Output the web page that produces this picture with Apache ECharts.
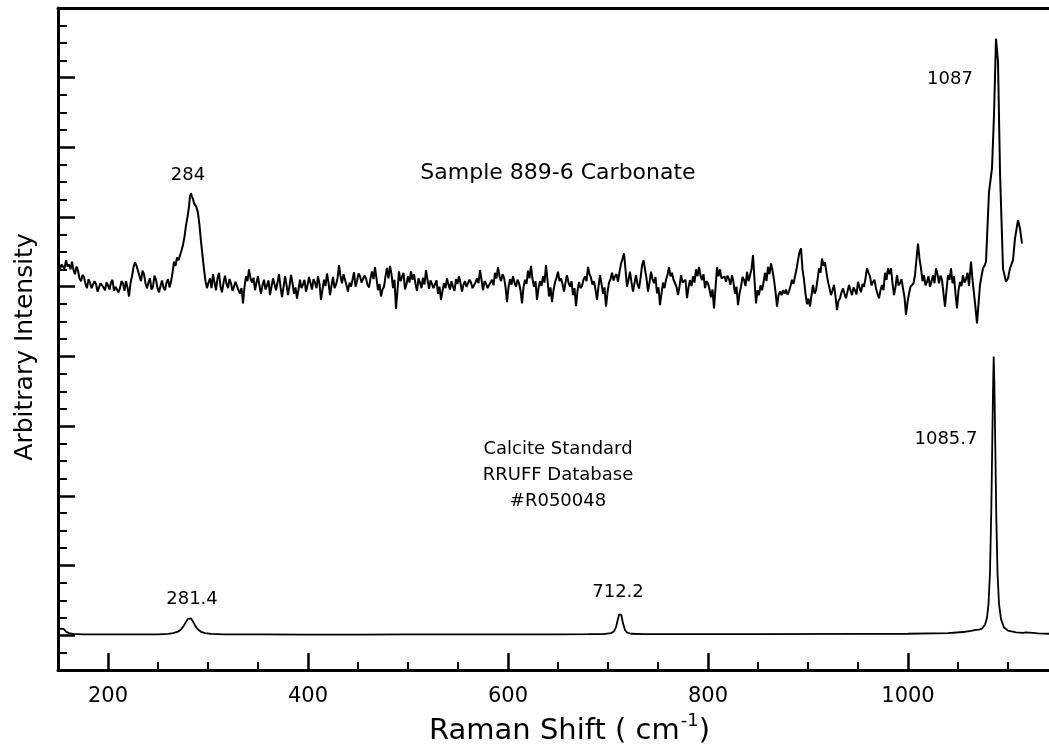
<!DOCTYPE html>
<html>
<head>
<meta charset="utf-8">
<script src="https://cdn.jsdelivr.net/npm/echarts@6/dist/echarts.min.js"></script>
<style>
html,body{margin:0;padding:0;background:#fff;}
#chart{width:1049px;height:747px;}
</style>
</head>
<body>
<div id="chart"></div>
<script>
// ---- Data ----
const xMajorTicks = [200, 400, 600, 800, 1000];
const yMajorTicks = [0, 1000, 2000, 3000, 4000, 5000, 6000, 7000, 8000];

// Sample 889-6 Carbonate (upper, noisy spectrum) [Raman shift, intensity]
const sampleSpectrum = [
[152,5250],[153.5,5320],[155,5300],[156.5,5260],[158,5380],[159.5,5290],[161,5320],[162.5,5250],[164,5360],[165.5,5240],
[167,5180],[168.5,5290],[170,5230],[171.5,5120],[173,5080],[174.5,5170],[176,5140],[177.5,5040],[179,4980],[180.5,5110],
[182,5060],[183.5,4980],[185,4960],[186.5,5080],[188,5040],[189.5,4930],[191,4990],[192.5,5050],[194,5070],[195.5,4990],
[197,4950],[198.5,5060],[200,5020],[201.5,4960],[203,5060],[204.5,5100],[206,4940],[207.5,5000],[209,5010],[210.5,4920],
[212,4980],[213.5,5080],[215,5050],[216.5,4940],[218,5080],[219.5,4990],[221,4860],[222.5,5050],[224,5150],[225.5,5280],
[227,5350],[228.5,5300],[230,5230],[231.5,5150],[233,5080],[234.5,5230],[236,5180],[237.5,5050],[239,4980],[240.5,5060],
[242,5120],[243.5,4960],[245,5000],[246.5,5160],[248,5100],[249.5,4980],[251,4920],[252.5,5010],[254,5090],[255.5,4990],
[257,4950],[258.5,5060],[260,5110],[261.5,4990],[263,5070],[264.5,5200],[266,5360],[267.5,5300],[269,5420],[270.5,5380],
[272,5450],[273.5,5520],[275,5600],[276.5,5720],[278,5880],[279.5,6000],[281,6150],[282,6300],[283,6340],[284,6290],
[285,6260],[286,6200],[287,6180],[288.5,6140],[290,6060],[291.5,5880],[293,5650],[294.5,5450],[296,5250],[297.5,5080],
[299,4980],[300.5,5060],[302,5120],[303.5,4980],[305,5180],[306.5,5060],[308,4950],[309.5,5120],[311,5200],[312.5,5000],
[314,4920],[315.5,5060],[317,5160],[318.5,5040],[320,4980],[321.5,5110],[323,5050],[324.5,4940],[326,4960],[327.5,5070],
[329,5010],[330.5,4950],[332,4900],[333.5,4980],[335,4760],[336.5,5000],[338,5150],[339.5,5080],[341,5250],[342.5,5120],
[344,5060],[345.5,5130],[347,4950],[348.5,5060],[350,5150],[351.5,5010],[353,4900],[354.5,5020],[356,5100],[357.5,4960],
[359,5020],[360.5,5090],[362,4880],[363.5,5000],[365,5120],[366.5,5040],[368,4950],[369.5,5060],[371,5180],[372.5,5000],
[374,4850],[375.5,4990],[377,5150],[378.5,5030],[380,4880],[381.5,5010],[383,5170],[384.5,5050],[386,4900],[387.5,4990],
[389,4830],[390.5,4960],[392,5100],[393.5,4980],[395,5030],[396.5,5100],[398,4930],[399.5,5020],[401,5140],[402.5,5050],
[404,4960],[405.5,5110],[407,5060],[408.5,4980],[410,5150],[411.5,5040],[413,4810],[414.5,4960],[416,5100],[417.5,5010],
[419,5190],[420.5,5060],[422,4880],[423.5,5020],[425,5140],[426.5,4980],[428,5030],[429.5,5120],[431,5310],[432.5,5150],
[434,5050],[435.5,5180],[437,5100],[438.5,5020],[440,4930],[441.5,5060],[443,5000],[444.5,5100],[446,5210],[447.5,5000],
[449,5080],[450.5,5190],[452,5150],[453.5,5060],[455,5040],[456.5,5160],[458,5120],[459.5,5030],[461,4990],[462.5,5120],
[464,5220],[465.5,5110],[467,5280],[468.5,5120],[470,4950],[471.5,5040],[473,4860],[474.5,4960],[476,5000],[477.5,5150],
[479,5270],[480.5,5120],[482,5300],[483.5,5180],[485,4980],[486.5,5100],[488,4680],[489.5,4950],[491,5220],[492.5,5080],
[494,5100],[495.5,5200],[497,4960],[498.5,5040],[500,5150],[501.5,5060],[503,5220],[504.5,5100],[506,5180],[507.5,5040],
[509,4940],[510.5,5120],[512,5060],[513.5,4980],[515,5130],[516.5,5030],[518,5240],[519.5,5100],[521,4970],[522.5,5090],
[524,5080],[525.5,4980],[527,5000],[528.5,5090],[530,4900],[531.5,5000],[533,4810],[534.5,4940],[536,5050],[537.5,4980],
[539,5120],[540.5,5030],[542,4960],[543.5,5080],[545,5000],[546.5,4940],[548,5110],[549.5,5040],[551,5150],[552.5,5050],
[554,4930],[555.5,5030],[557,5080],[558.5,5000],[560,4990],[561.5,5100],[563,5060],[564.5,4980],[566,4990],[567.5,5060],
[569,5120],[570.5,5050],[572,5240],[573.5,5100],[575,4950],[576.5,5080],[578,5050],[579.5,4980],[581,4960],[582.5,5060],
[584,5100],[585.5,5020],[587,5200],[588.5,5120],[590,5280],[591.5,5150],[593,5080],[594.5,5180],[596,5130],[597.5,5000],
[599,4780],[600.5,4990],[602,5110],[603.5,5030],[605,5150],[606.5,5060],[608,5000],[609.5,5100],[611,5050],[612.5,4950],
[614,4760],[615.5,4990],[617,5100],[618.5,5040],[620,5230],[621.5,5120],[623,5300],[624.5,5110],[626,5000],[627.5,5080],
[629,4810],[630.5,4980],[632,5080],[633.5,5010],[635,5150],[636.5,5060],[638,5310],[639.5,5100],[641,4860],[642.5,4990],
[644,4780],[645.5,4950],[647,5060],[648.5,5130],[650,5215],[651.5,5080],[653,5120],[654.5,5040],[656,4930],[657.5,5060],
[659,5165],[660.5,5060],[662,5000],[663.5,5080],[665,4880],[666.5,4980],[668,4720],[669.5,4940],[671,5070],[672.5,4980],
[674,5010],[675.5,5100],[677,5150],[678.5,5080],[680,5285],[681.5,5180],[683,5130],[684.5,5030],[686,5080],[687.5,4960],
[689,4810],[690.5,5000],[692,5165],[693.5,5040],[695,4900],[696.5,4990],[698,4715],[699.5,4920],[701,5060],[702.5,5110],
[704,5200],[705.5,5090],[707,5150],[708.5,5180],[710,5070],[711.5,5210],[713,5330],[714.5,5400],[716,5480],[717.5,5250],
[719,5000],[720.5,5100],[722,5215],[723.5,5060],[725,4930],[726.5,5050],[728,5165],[729.5,5040],[731,4975],[732.5,5120],
[734,5300],[735.5,5380],[737,5360],[738.5,5120],[740,4930],[741.5,5060],[743,5215],[744.5,5110],[746,5050],[747.5,5140],
[749,4905],[750.5,4990],[752,4735],[753.5,4900],[755,5060],[756.5,4980],[758,5100],[759.5,5170],[761,5280],[762.5,5150],
[764,5200],[765.5,5100],[767,5095],[768.5,5000],[770,4880],[771.5,5000],[773,5165],[774.5,5060],[776,5040],[777.5,5100],
[779,4835],[780.5,4990],[782,5095],[783.5,5010],[785,5150],[786.5,5060],[788,5250],[789.5,5150],[791,5285],[792.5,5160],
[794,5095],[795.5,5180],[797,4980],[798.5,5080],[800,5050],[801.5,4960],[803,4850],[804.5,4960],[806,4690],[807.5,4980],
[809,5280],[810.5,5150],[812,5250],[813.5,5120],[815,5095],[816.5,5150],[818,5070],[819.5,5160],[821,5110],[822.5,5030],
[824,5165],[825.5,5060],[827,4900],[828.5,5000],[830,4735],[831.5,4900],[833,5000],[834.5,5140],[836,5100],[837.5,5010],
[839,5215],[840.5,5080],[842,5165],[843.5,5250],[845,5455],[846.5,5100],[848,4760],[849.5,4950],[851,4880],[852.5,5020],
[854,4950],[855.5,5060],[857,5200],[858.5,5080],[860,5285],[861.5,5180],[863,5335],[864.5,5230],[866,5100],[867.5,4930],
[869,4715],[870.5,4880],[872,4930],[873.5,4880],[875,4950],[876.5,4900],[878,4960],[879.5,4890],[881,4930],[882.5,5010],
[884,5100],[885.5,5040],[887,5150],[888.5,5250],[890,5380],[891.5,5500],[893,5550],[894.5,5250],[896,5100],[897.5,4900],
[899,4750],[900.5,4830],[902,4715],[903.5,4880],[905,5025],[906.5,4900],[908,4950],[909.5,5100],[911,5265],[912.5,5200],
[914,5405],[915.5,5300],[917,5350],[918.5,5200],[920,5070],[921.5,4980],[923,4880],[924.5,4950],[926,5025],[927.5,4860],
[929,4665],[930.5,4800],[932,4835],[933.5,4920],[935,4975],[936.5,4900],[938,4835],[939.5,4930],[941,5025],[942.5,4950],
[944,4880],[945.5,4990],[947,4950],[948.5,4890],[950,5070],[951.5,4990],[953,4920],[954.5,5040],[956,5000],[957.5,5120],
[959,5265],[960.5,5200],[962,5150],[963.5,5020],[965,5070],[966.5,5100],[968,4975],[969.5,4900],[971,4835],[972.5,4950],
[974,5025],[975.5,4950],[977,5200],[978.5,5100],[980,5265],[981.5,5180],[983,5265],[984.5,5050],[986,4880],[987.5,5000],
[989,5165],[990.5,5020],[992,5050],[993.5,5110],[995,4975],[996.5,4850],[998,4595],[999.5,4780],[1001,4900],[1002.5,5000],
[1004,4975],[1005.5,5050],[1007,5165],[1008.5,5400],[1010,5620],[1011.5,5400],[1013,5265],[1014.5,5080],[1016,5165],[1017.5,5020],
[1019,5070],[1020.5,5150],[1022,5000],[1023.5,5080],[1025,5165],[1026.5,5050],[1028,5265],[1029.5,5180],[1031,5050],[1032.5,5160],
[1034,5100],[1035.5,4900],[1037,4715],[1038.5,4950],[1040,5165],[1041.5,5100],[1043,5265],[1044.5,5050],[1046,5150],[1047.5,4900],
[1049,4690],[1050.5,4950],[1052,5070],[1053.5,5010],[1055,5165],[1056.5,5060],[1058,5110],[1059.5,5200],[1061,5010],[1062,5200],
[1063,5360],[1064.5,5100],[1066,4900],[1067.5,4700],[1069,4475],[1070.5,4750],[1072,5025],[1073.5,5150],[1075,5265],[1076.5,5300],
[1078,5360],[1081,6363],[1084,6700],[1086,7465],[1088,8560],[1090,8230],[1092,6650],[1095,5260],[1098,5070],[1100,5120],
[1102,5265],[1105,5383],[1107,5693],[1110,5957],[1112,5837],[1114,5620]
];

// Calcite Standard, RRUFF Database #R050048 (lower spectrum)
const calciteSpectrum = [
[150,60],[152,95],[154,110],[156,85],[158,50],[161,30],[165,18],[175,12],[200,10],[230,10],
[250,12],[260,18],[265,28],[270,50],[273,80],[276,140],[278,190],[280,235],[281.4,255],[283,240],
[285,195],[287,140],[290,80],[293,48],[297,28],[303,18],[315,12],[350,10],[400,8],[450,8],
[500,10],[550,10],[600,12],[650,12],[680,14],[695,16],[703,28],[706,55],[708,115],[710,235],
[711.2,300],[712.2,320],[713.3,290],[715,170],[717,75],[719,38],[723,20],[735,14],[780,14],[850,16],
[950,18],[1000,20],[1040,30],[1055,45],[1063,60],[1068,75],[1071,78],[1074,95],[1077,150],[1079,250],
[1080.5,450],[1082,900],[1083.3,1800],[1084.3,2800],[1085,3500],[1085.7,4000],[1086.4,3600],[1087.3,2700],[1088.3,1700],[1089.5,900],
[1091,450],[1093,230],[1096,110],[1100,65],[1108,40],[1115,32],[1118,40],[1120,48],[1122,35],[1130,25],[1141,20]
];

// Text annotations: [text, raman shift, intensity]
const peakLabels = [
  ['284', 280, 6600],
  ['1087', 1042, 7980],
  ['1085.7', 1038, 2810],
  ['281.4', 284, 520],
  ['712.2', 710, 620]
];
const captionLabels = [
  ['Sample 889-6 Carbonate', 650, 6630],
  ['Calcite Standard\nRRUFF Database\n#R050048', 650, 2290]
];

const xName = 'Raman Shift';
const yName = 'Arbitrary Intensity';

// ---- Chart ----
const FONT = 'DejaVu Sans';
const X_MIN = 150, X_MAX = 1141, Y_MIN = -500, Y_MAX = 9000;
const chart = echarts.init(document.getElementById('chart'), null, {renderer: 'canvas'});

function minorValues(min, max, step, majors) {
  const out = [];
  for (let v = min + step; v < max; v += step) if (majors.indexOf(v) < 0) out.push(v);
  return out;
}

const labelStyle = (size, lh) => ({
  show: true, position: 'inside', formatter: '{b}', fontSize: size, lineHeight: lh,
  fontFamily: FONT, color: '#000', opacity: 1, textBorderWidth: 0, textShadowBlur: 0
});

const option = {
  animation: false,
  backgroundColor: '#ffffff',
  textStyle: {fontFamily: FONT, color: '#000'},
  grid: {left: 58, top: 8, right: 0, bottom: 77, show: false, containLabel: false, outerBoundsMode: 'none'},
  xAxis: [
    {
      type: 'value', min: X_MIN, max: X_MAX, position: 'bottom',
      axisLine: {show: true, onZero: false, lineStyle: {color: '#000', width: 3}},
      axisTick: {show: true, inside: true, length: 17, customValues: xMajorTicks, lineStyle: {color: '#000', width: 2.5}},
      axisLabel: {show: true, customValues: xMajorTicks, formatter: v => String(v), fontSize: 21, color: '#000', fontFamily: FONT, margin: 16},
      splitLine: {show: false},
      name: '{a|' + xName + ' ( cm}{s|-1}{a|)}',
      nameLocation: 'middle', nameGap: 40,
      nameTextStyle: {
        padding: [0, 0, 0, 32],
        rich: {
          a: {fontSize: 29, fontFamily: FONT, color: '#000', lineHeight: 34, verticalAlign: 'bottom'},
          s: {fontSize: 18, fontFamily: FONT, color: '#000', lineHeight: 34, verticalAlign: 'top', padding: [0, 0, 0, 1]}
        }
      }
    },
    {
      type: 'value', min: X_MIN, max: X_MAX, position: 'bottom',
      axisLine: {show: false, onZero: false},
      axisTick: {show: true, inside: true, length: 8, customValues: minorValues(150, X_MAX, 50, xMajorTicks), lineStyle: {color: '#000', width: 2}},
      axisLabel: {show: false},
      splitLine: {show: false}
    },
    {
      type: 'value', min: X_MIN, max: X_MAX, position: 'top',
      axisLine: {show: true, onZero: false, lineStyle: {color: '#000', width: 3}},
      axisTick: {show: false},
      axisLabel: {show: false},
      splitLine: {show: false}
    }
  ],
  yAxis: [
    {
      type: 'value', min: Y_MIN, max: Y_MAX, position: 'left',
      axisLine: {show: true, onZero: false, lineStyle: {color: '#000', width: 3}},
      axisTick: {show: true, inside: true, length: 17, customValues: yMajorTicks, lineStyle: {color: '#000', width: 2.5}},
      axisLabel: {show: false},
      splitLine: {show: false},
      name: yName, nameLocation: 'middle', nameRotate: 90, nameGap: 20,
      nameTextStyle: {fontSize: 25, fontFamily: FONT, color: '#000', padding: [0, 16, 0, 0]}
    },
    {
      type: 'value', min: Y_MIN, max: Y_MAX, position: 'left',
      axisLine: {show: false, onZero: false},
      axisTick: {show: true, inside: true, length: 9, customValues: minorValues(Y_MIN, Y_MAX, 250, yMajorTicks), lineStyle: {color: '#000', width: 2}},
      axisLabel: {show: false},
      splitLine: {show: false}
    }
  ],
  series: [
    {
      type: 'line', xAxisIndex: 0, yAxisIndex: 0, data: sampleSpectrum,
      showSymbol: false, symbol: 'none', smooth: false, clip: true,
      lineStyle: {color: '#000', width: 2}
    },
    {
      type: 'line', xAxisIndex: 0, yAxisIndex: 0, data: calciteSpectrum,
      showSymbol: false, symbol: 'none', smooth: false, clip: true,
      lineStyle: {color: '#000', width: 1.8}
    },
    {
      type: 'scatter', xAxisIndex: 0, yAxisIndex: 0, symbolSize: 0, silent: true,
      itemStyle: {opacity: 1, color: '#000'},
      data: peakLabels.map(d => ({name: d[0], value: [d[1], d[2]]})),
      label: labelStyle(18, 22)
    },
    {
      type: 'scatter', xAxisIndex: 0, yAxisIndex: 0, symbolSize: 0, silent: true,
      itemStyle: {opacity: 1, color: '#000'},
      data: [{name: captionLabels[0][0], value: [captionLabels[0][1], captionLabels[0][2]]}],
      label: labelStyle(22, 26)
    },
    {
      type: 'scatter', xAxisIndex: 0, yAxisIndex: 0, symbolSize: 0, silent: true,
      itemStyle: {opacity: 1, color: '#000'},
      data: [{name: captionLabels[1][0], value: [captionLabels[1][1], captionLabels[1][2]]}],
      label: labelStyle(18, 26)
    }
  ]
};
chart.setOption(option);
</script>
</body>
</html>
